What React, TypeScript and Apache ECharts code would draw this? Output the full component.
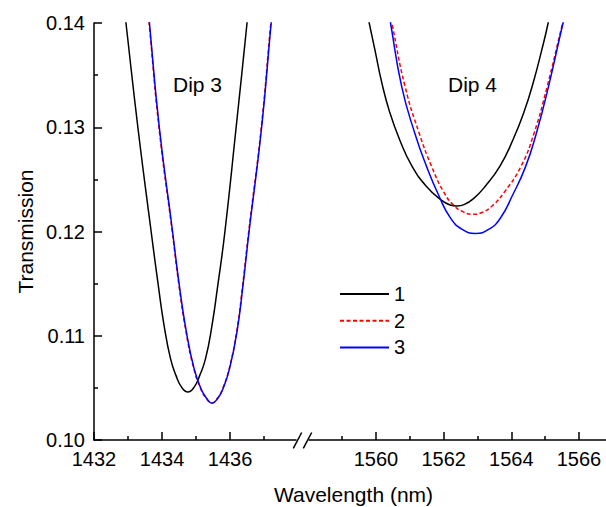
import React, { useEffect, useRef } from "react";
import * as echarts from "echarts";

const seriesNames = ["1", "2", "3"];
const seriesColors = ["#000000", "#ff0000", "#0000ff"];
const seriesDash: any[] = ["solid", [4, 2.5], "solid"];

const leftMajorTicks = [1432, 1434, 1436];
const leftMinorTicks = [1433, 1435, 1437];
const rightMajorTicks = [1560, 1562, 1564, 1566];
const rightMinorTicks = [1559, 1561, 1563, 1565];

// Dip 3 (left panel): [wavelength nm, transmission]
const dip3Curve1 = [
  [1432.8, 0.144], [1432.94, 0.14], [1433.29, 0.13], [1433.68, 0.12], [1433.9, 0.1146],
  [1434.06, 0.111], [1434.25, 0.1078], [1434.41, 0.1062], [1434.57, 0.1051], [1434.76, 0.1046],
  [1434.95, 0.1051], [1435.11, 0.1062], [1435.28, 0.1078], [1435.47, 0.111], [1435.63, 0.1146],
  [1435.85, 0.12], [1436.18, 0.13], [1436.5, 0.14], [1436.62, 0.144],
];
const dip3Curve2 = [
  [1433.48, 0.1445], [1433.62, 0.14], [1433.91, 0.13], [1434.3, 0.12], [1434.5, 0.1148],
  [1434.7, 0.1105], [1434.93, 0.1069], [1435.14, 0.1049], [1435.3, 0.104], [1435.46, 0.10355],
  [1435.63, 0.104], [1435.78, 0.1049], [1435.98, 0.1069], [1436.2, 0.1105], [1436.37, 0.1148],
  [1436.55, 0.12], [1436.92, 0.13], [1437.2, 0.14], [1437.34, 0.1445],
];
const dip3Curve3 = [
  [1433.5, 0.1445], [1433.63, 0.14], [1433.92, 0.13], [1434.31, 0.12], [1434.51, 0.1148],
  [1434.71, 0.1105], [1434.94, 0.1069], [1435.15, 0.1049], [1435.31, 0.104], [1435.47, 0.10353],
  [1435.64, 0.104], [1435.79, 0.1049], [1435.99, 0.1069], [1436.21, 0.1105], [1436.38, 0.1148],
  [1436.56, 0.12], [1436.93, 0.13], [1437.21, 0.14], [1437.35, 0.1445],
];

// Dip 4 (right panel)
const dip4Curve1 = [
  [1559.57, 0.1435], [1559.8, 0.14], [1559.97, 0.1374], [1560.17, 0.1343], [1560.4, 0.1315],
  [1560.7, 0.1288], [1561.06, 0.1263], [1561.5, 0.1243], [1561.94, 0.1230], [1562.19, 0.12255],
  [1562.39, 0.12245], [1562.62, 0.1226], [1562.9, 0.1232], [1563.22, 0.1243], [1563.67, 0.1263],
  [1564.05, 0.1288], [1564.38, 0.1315], [1564.65, 0.1343], [1564.9, 0.1374], [1565.09, 0.14],
  [1565.3, 0.1435],
];
const dip4Curve2 = [
  [1560.25, 0.1435], [1560.47, 0.14], [1560.86, 0.1339], [1561.28, 0.1294], [1561.65, 0.1262],
  [1562.0, 0.1238], [1562.3, 0.1225], [1562.6, 0.12185], [1562.87, 0.12165], [1563.15, 0.12185],
  [1563.45, 0.1225], [1563.8, 0.1238], [1564.28, 0.1262], [1564.67, 0.1294], [1565.06, 0.1339],
  [1565.52, 0.14], [1565.8, 0.1435],
];
const dip4Curve3 = [
  [1560.24, 0.1435], [1560.43, 0.14], [1560.76, 0.1339], [1561.15, 0.1294], [1561.5, 0.1262],
  [1561.85, 0.1235], [1562.2, 0.1213], [1562.55, 0.1202], [1562.94, 0.11982], [1563.33, 0.1202],
  [1563.68, 0.1213], [1564.04, 0.1235], [1564.42, 0.1262], [1564.74, 0.1294], [1565.1, 0.1339],
  [1565.53, 0.14], [1565.8, 0.1435],
];

const dip3Data = [dip3Curve1, dip3Curve2, dip3Curve3];
const dip4Data = [dip4Curve1, dip4Curve2, dip4Curve3];

const FONT = "'Liberation Sans', Arial, Helvetica, sans-serif";

export default function App() {
  const ref = useRef<HTMLDivElement>(null);

  useEffect(() => {
    if (!ref.current) return;
    const chart = echarts.init(ref.current, undefined, { renderer: "svg" });

    const axisLine = { show: true, lineStyle: { color: "#000", width: 1.5 } };
    const mkMajorX = (min: number, max: number, gridIndex: number, ticks: number[]) => ({
      type: "value",
      gridIndex,
      min,
      max,
      position: "bottom",
      axisLine,
      axisTick: { show: true, inside: true, length: 8, lineStyle: { color: "#000", width: 1.5 }, customValues: ticks },
      axisLabel: {
        show: true,
        customValues: ticks,
        fontSize: 20,
        color: "#000",
        fontFamily: FONT,
        margin: 9,
        formatter: (v: number) => String(v),
      },
      splitLine: { show: false },
    });
    const mkMinorX = (min: number, max: number, gridIndex: number, ticks: number[]) => ({
      type: "value",
      gridIndex,
      min,
      max,
      position: "bottom",
      offset: 0,
      axisLine: { show: false },
      axisTick: { show: true, inside: true, length: 4, lineStyle: { color: "#000", width: 1.5 }, customValues: ticks },
      axisLabel: { show: false },
      splitLine: { show: false },
    });

    const series: any[] = [];
    [dip3Data, dip4Data].forEach((group, gi) => {
      group.forEach((data, i) => {
        series.push({
          type: "line",
          name: seriesNames[i],
          xAxisIndex: gi === 0 ? 0 : 2,
          yAxisIndex: gi,
          data,
          symbol: "none",
          showSymbol: false,
          smooth: 0.5,
          clip: true,
          lineStyle: { color: seriesColors[i], width: 1.5, type: seriesDash[i] },
          itemStyle: { color: seriesColors[i] },
          z: 2 + i,
        });
      });
    });

    chart.setOption({
      animation: false,
      backgroundColor: "#ffffff",
      textStyle: { fontFamily: FONT },
      grid: [
        { left: 94, top: 23, width: 202, height: 417, containLabel: false },
        { left: 309, top: 23, width: 297, height: 417, containLabel: false },
      ],
      xAxis: [
        mkMajorX(1432, 1437.94, 0, leftMajorTicks),
        mkMinorX(1432, 1437.94, 0, leftMinorTicks),
        mkMajorX(1558.02, 1566.8, 1, rightMajorTicks),
        mkMinorX(1558.02, 1566.8, 1, rightMinorTicks),
      ],
      yAxis: [
        {
          type: "value",
          gridIndex: 0,
          min: 0.1,
          max: 0.14,
          interval: 0.01,
          axisLine,
          axisTick: { show: true, inside: true, length: 8, lineStyle: { color: "#000", width: 1.5 } },
          minorTick: { show: true, splitNumber: 2, length: 4, lineStyle: { color: "#000", width: 1.5 } },
          axisLabel: {
            fontSize: 20,
            color: "#000",
            fontFamily: FONT,
            margin: 9,
            formatter: (v: number) => v.toFixed(2),
          },
          splitLine: { show: false },
          minorSplitLine: { show: false },
        },
        { type: "value", gridIndex: 1, min: 0.1, max: 0.14, show: false, splitLine: { show: false } },
      ],
      legend: {
        data: seriesNames,
        orient: "vertical",
        left: 334,
        top: 279,
        itemWidth: 49,
        itemHeight: 1,
        itemGap: 6.7,
        itemStyle: { opacity: 0 },
        textStyle: { fontSize: 20, color: "#000", fontFamily: FONT },
      },
      graphic: [
        { type: "text", x: 173, y: 84, style: { text: "Dip 3", font: `21px ${FONT}`, fill: "#000", textAlign: "left", textVerticalAlign: "middle" } },
        { type: "text", x: 448, y: 84, style: { text: "Dip 4", font: `21px ${FONT}`, fill: "#000", textAlign: "left", textVerticalAlign: "middle" } },
        { type: "text", x: 25, y: 231.5, rotation: Math.PI / 2, style: { text: "Transmission", font: `21px ${FONT}`, fill: "#000", textAlign: "center", textVerticalAlign: "middle" } },
        { type: "text", x: 353.5, y: 494, style: { text: "Wavelength (nm)", font: `21px ${FONT}`, fill: "#000", textAlign: "center", textVerticalAlign: "middle" } },
        { type: "line", shape: { x1: 293.3, y1: 448.3, x2: 301.7, y2: 432.5 }, style: { stroke: "#000", lineWidth: 1.5 } },
        { type: "line", shape: { x1: 303.3, y1: 448.3, x2: 311.7, y2: 432.5 }, style: { stroke: "#000", lineWidth: 1.5 } },
      ],
      series,
    });

    return () => chart.dispose();
  }, []);

  return <div ref={ref} style={{ position: "absolute", left: 0, top: 0, width: 606, height: 507 }} />;
}
